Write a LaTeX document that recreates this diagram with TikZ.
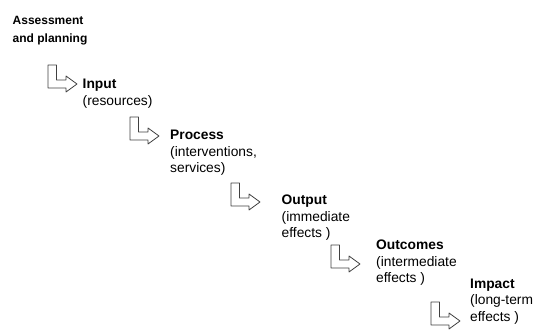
\documentclass[tikz,border=0pt]{standalone}
\usepackage{fontspec}
\setmainfont{Liberation Sans}
\begin{document}
\begin{tikzpicture}[x=1pt,y=-1pt,line join=round,line cap=round,
	bentarrow/.style={draw=black!75,fill=white,line width=0.8pt},
	stage/.style={anchor=north west,align=left,inner sep=0pt,font=\fontsize{13.8}{16.5}\selectfont}]
	\useasboundingbox (0,0) rectangle (544,331);
	\coordinate (A1) at (48,65);
	\coordinate (A2) at (130,117);
	\coordinate (A3) at (231,183);
	\coordinate (A4) at (331,245);
	\coordinate (A5) at (431,302);
	\foreach \p in
	{A1,A2,A3,A4,A5}
	\draw[bentarrow,shift={(\p)}] (0,0)--(8.5,0)--(8.5,15)--(18,15)--(18,11)--(29,19)--(18,27)--(18,23)--(0,23)--cycle;
	\node[stage,font=\fontsize{12}{17.5}\selectfont\bfseries] (plan) at (12.5,16.3) {Assessment\\and planning};
	\node[stage] (input) at (82.5,79) {\textbf{Input}\\(resources)};
	\node[stage] (process) at (170,130) {\textbf{Process}\\(interventions,\\services)};
	\node[stage] (output) at (281.5,195) {\textbf{Output}\\(immediate\\effects )};
	\node[stage] (outcomes) at (376,240) {\textbf{Outcomes}\\(intermediate\\effects )};
	\node[stage] (impact) at (470,278.5) {\textbf{Impact}\\(long-term\\effects )};
\end{tikzpicture}
\end{document}
